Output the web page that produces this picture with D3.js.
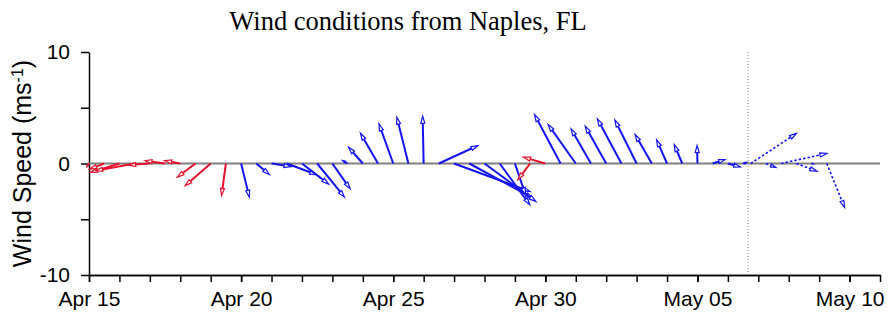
<!DOCTYPE html>
<html>
<head>
<meta charset="utf-8">
<script src="https://cdn.jsdelivr.net/npm/d3@7"></script>
<style>
  body { margin: 0; background: #fff; }
  svg { display: block; }
  .axis text { font-family: "Liberation Sans", Arial, Helvetica, sans-serif; font-size: 21px; fill: #000; }
  .axis path, .axis line { stroke: #000; stroke-width: 1.5; }
</style>
</head>
<body>
<div id="chart"></div>
<script>
/*------------------------------- data -------------------------------*/

// observations every 12 h from Apr 15 00:00 (UTC)
const obsStart = Date.UTC(2024, 3, 15, 0);
const obsU = [-0.2, -1.3, -2.6, -3.5, -1.9, -1.8, -1.4, -1.64, -2.3, -0.39,
              0.74, 1.17, 1.75, 2.69, 2.4, 2.45, 1.59, -0.45, -1.28, -1.58,
              -1.28, -1.04, -0.09, 3.5, 6.8, 5.7, 4.6, 2.7, 0.95, -1.1,
              -1.96, -2.33, -2.48, -1.79, -1.88, -2.15, -1.95, -1.5, -0.94, -0.72,
              -0.04, 1.13, 1.1, 0.35];
const obsV = [-0.3, -0.5, -0.8, -0.65, -0.15, 0.25, 0.25, -1.23, -2.0, -2.87,
              -3.02, -0.99, -0.28, -1.01, -1.85, -3.02, -2.27, 0.27, 1.46, 2.72,
              3.56, 4.15, 4.24, 1.61, -2.5, -3.1, -3.4, -3.7, -2.8, -1.45,
              0.57, 4.39, 3.5, 3.11, 3.35, 4.0, 3.9, 2.6, 2.13, 1.7,
              1.61, 0.36, -0.3, 0.1];
// 1 = red group, 0 = blue group
const obsGroup = [1, 1, 1, 1, 1, 1, 1, 1, 1, 1,
                  0, 0, 0, 0, 0, 0, 0, 0, 0, 0,
                  0, 0, 0, 0, 0, 0, 0, 0, 0, 1,
                  1, 0, 0, 0, 0, 0, 0, 0, 0, 0,
                  0, 0, 0, 0];

// forecast every 12 h from May 06 18:00 (UTC)
const fcStart = Date.UTC(2024, 4, 6, 18);
const fcU = [4.1, 0.9, 4.1, 1.85, 0.15, 1.6];
const fcV = [2.7, -0.35, 0.9, -0.7, -0.05, -3.95];

const nowTime = Date.UTC(2024, 4, 6, 16);

const xTickDates = [Date.UTC(2024, 3, 15), Date.UTC(2024, 3, 20), Date.UTC(2024, 3, 25),
                    Date.UTC(2024, 3, 30), Date.UTC(2024, 4, 5), Date.UTC(2024, 4, 10)];
const yTicks = [-10, -5, 0, 5, 10];
const yTickLabels = ["-10", "", "0", "", "10"];

/*------------------------------- setup -------------------------------*/

const size = { width: 888, height: 318 };
const colors = { red: "#e8112d", blue: "#1414f0" };
const halfDay = 12 * 3600 * 1000;

const svg = d3.select("#chart").append("svg")
    .attr("width", size.width)
    .attr("height", size.height);

const x = d3.scaleUtc()
    .domain([new Date(Date.UTC(2024, 3, 15)), new Date(Date.UTC(2024, 4, 11))])
    .range([89, 880]);
const y = d3.scaleLinear().domain([-10, 10]).range([275, 52]);
const pxPerUnit = y(0) - y(1);

/*------------------------------- axes -------------------------------*/

svg.append("g")
    .attr("class", "axis")
    .attr("transform", `translate(${x.range()[0]},0)`)
    .call(d3.axisLeft(y).tickValues(yTicks).tickSize(8).tickSizeOuter(0).tickPadding(11)
        .tickFormat((d, i) => yTickLabels[i]));

// daily minor ticks
svg.append("g")
    .attr("class", "axis")
    .attr("transform", `translate(0,${y(-10)})`)
    .call(d3.axisBottom(x).ticks(d3.utcDay.every(1)).tickSize(7).tickSizeOuter(0).tickFormat(""));

svg.append("g")
    .attr("class", "axis")
    .attr("transform", `translate(0,${y(-10)})`)
    .call(d3.axisBottom(x).tickValues(xTickDates.map(d => new Date(d))).tickSize(7).tickSizeOuter(0)
        .tickPadding(9).tickFormat(d3.utcFormat("%b %d")));

// zero line
svg.append("line")
    .attr("x1", x.range()[0]).attr("x2", x.range()[1])
    .attr("y1", y(0)).attr("y2", y(0))
    .attr("stroke", "#808080").attr("stroke-width", 2);

// now marker
svg.append("line")
    .attr("x1", x(new Date(nowTime))).attr("x2", x(new Date(nowTime)))
    .attr("y1", y(10)).attr("y2", y(-10))
    .attr("stroke", "#888").attr("stroke-width", 1).attr("stroke-dasharray", "1,2");

/*------------------------------- arrows -------------------------------*/

const obs = obsU.map((u, i) => ({ t: new Date(obsStart + i * halfDay), u, v: obsV[i], color: obsGroup[i] ? colors.red : colors.blue, dash: null }));
const fc = fcU.map((u, i) => ({ t: new Date(fcStart + i * halfDay), u, v: fcV[i], color: colors.blue, dash: "2.5,2" }));

const arrows = svg.append("g");

[...obs, ...fc].forEach(d => {
    const x0 = x(d.t), y0 = y(0);
    const x1 = x0 + d.u * pxPerUnit, y1 = y0 - d.v * pxPerUnit;
    const len = Math.hypot(x1 - x0, y1 - y0);
    if (len < 1) return;
    const a = Math.atan2(y1 - y0, x1 - x0);
    const hl = Math.min(7, len * 0.5), hw = Math.min(2, len * 0.15);
    const bx = x1 - Math.cos(a) * hl, by = y1 - Math.sin(a) * hl;

    arrows.append("line")
        .attr("x1", x0).attr("y1", y0).attr("x2", bx).attr("y2", by)
        .attr("stroke", d.color).attr("stroke-width", d.dash ? 1.6 : 2)
        .attr("stroke-dasharray", d.dash);

    arrows.append("path")
        .attr("d", `M${x1},${y1}L${bx + Math.sin(a) * hw},${by - Math.cos(a) * hw}L${bx - Math.sin(a) * hw},${by + Math.cos(a) * hw}Z`)
        .attr("fill", "#fff")
        .attr("stroke", d.color).attr("stroke-width", 1.2);
});

/*------------------------------- labels -------------------------------*/

svg.append("text")
    .attr("x", 408).attr("y", 30)
    .attr("text-anchor", "middle")
    .style("font-family", "'Liberation Serif', 'Times New Roman', serif")
    .style("font-size", "26.5px")
    .text("Wind conditions from Naples, FL");

const yLab = svg.append("text")
    .attr("transform", `translate(31,${y(0)}) rotate(-90)`)
    .attr("text-anchor", "middle")
    .style("font-family", "'Liberation Sans', Arial, sans-serif")
    .style("font-size", "25px");
yLab.append("tspan").text("Wind Speed (ms");
yLab.append("tspan").attr("baseline-shift", "super").style("font-size", "16px").text("-1");
yLab.append("tspan").text(")");
</script>
</body>
</html>
